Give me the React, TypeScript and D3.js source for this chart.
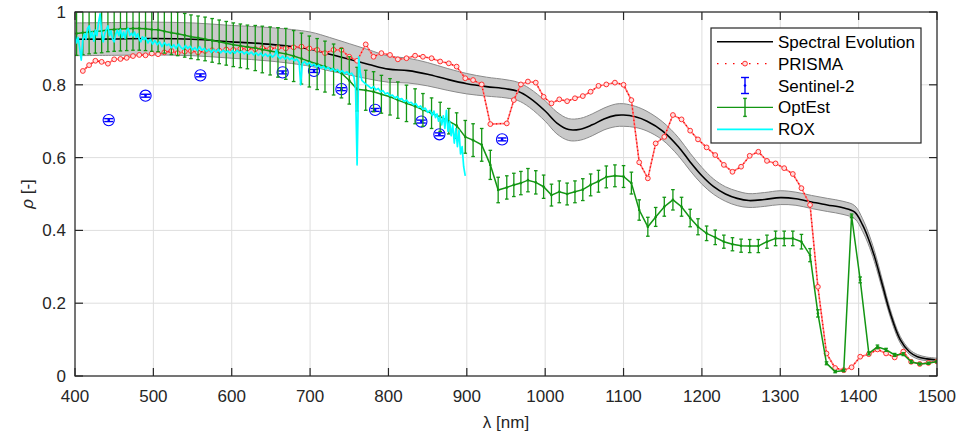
import React from 'react';
import * as d3 from 'd3';

const W = 959;
const H = 438;
const PL = 75, PR = 937, PT = 12, PB = 376;

const xTicks = [400, 500, 600, 700, 800, 900, 1000, 1100, 1200, 1300, 1400, 1500];
const yTicks = [0, 0.2, 0.4, 0.6, 0.8, 1];
const yTickLabels = ['0', '0.2', '0.4', '0.6', '0.8', '1'];
const legendLabels = ['Spectral Evolution', 'PRISMA', 'Sentinel-2', 'OptEst', 'ROX'];

// [wavelength, reflectance, std]
const spectralEvolution: [number, number, number][] = [
  [400, 0.925, 0.045], [450, 0.926, 0.045], [500, 0.927, 0.045], [550, 0.925, 0.045],
  [600, 0.918, 0.045], [650, 0.911, 0.046], [700, 0.898, 0.047], [725, 0.884, 0.046],
  [750, 0.870, 0.043], [775, 0.856, 0.040], [800, 0.843, 0.036], [825, 0.839, 0.034],
  [850, 0.829, 0.032], [875, 0.815, 0.030], [900, 0.803, 0.028], [925, 0.795, 0.026],
  [950, 0.789, 0.025], [965, 0.782, 0.025], [980, 0.764, 0.026], [1000, 0.728, 0.028],
  [1015, 0.695, 0.030], [1030, 0.677, 0.030], [1045, 0.678, 0.030], [1060, 0.690, 0.030],
  [1075, 0.706, 0.030], [1090, 0.716, 0.031], [1100, 0.717, 0.031], [1115, 0.712, 0.029],
  [1130, 0.700, 0.027], [1150, 0.673, 0.025], [1170, 0.630, 0.025], [1185, 0.588, 0.024],
  [1200, 0.550, 0.023], [1215, 0.520, 0.021], [1230, 0.500, 0.020], [1245, 0.488, 0.020],
  [1260, 0.482, 0.019], [1280, 0.485, 0.019], [1300, 0.490, 0.019], [1320, 0.487, 0.018],
  [1340, 0.478, 0.018], [1360, 0.470, 0.018], [1380, 0.462, 0.018], [1395, 0.450, 0.018],
  [1405, 0.415, 0.017], [1412, 0.380, 0.016], [1420, 0.330, 0.015], [1431, 0.245, 0.013],
  [1440, 0.175, 0.011], [1453, 0.100, 0.009], [1465, 0.066, 0.007], [1475, 0.053, 0.006],
  [1487, 0.047, 0.005], [1500, 0.044, 0.005],
];

// [wavelength, reflectance]
const prisma: [number, number][] = [
  [410, 0.838], [418, 0.854], [426, 0.866], [434, 0.863], [442, 0.858], [450, 0.870],
  [458, 0.871], [466, 0.874], [474, 0.879], [482, 0.882], [490, 0.881], [498, 0.886],
  [506, 0.884], [514, 0.889], [523, 0.893], [531, 0.887], [540, 0.891], [548, 0.893],
  [557, 0.889], [566, 0.893], [575, 0.895], [584, 0.894], [593, 0.897], [602, 0.896],
  [611, 0.899], [620, 0.900], [630, 0.898], [639, 0.901], [649, 0.899], [659, 0.902],
  [669, 0.900], [679, 0.903], [689, 0.905], [699, 0.900], [709, 0.896], [719, 0.887],
  [730, 0.896], [740, 0.896], [750, 0.877], [760, 0.866], [771, 0.911], [781, 0.877],
  [791, 0.887], [802, 0.882], [812, 0.870], [823, 0.873], [834, 0.880], [844, 0.877],
  [855, 0.873], [866, 0.864], [877, 0.859], [887, 0.850], [898, 0.818], [908, 0.813],
  [919, 0.801], [930, 0.692], [951, 0.694], [960, 0.758], [969, 0.801], [978, 0.809],
  [988, 0.806], [998, 0.767], [1008, 0.749], [1018, 0.760], [1028, 0.755], [1038, 0.763],
  [1048, 0.769], [1058, 0.781], [1068, 0.797], [1078, 0.801], [1089, 0.806], [1100, 0.800],
  [1110, 0.758], [1120, 0.587], [1131, 0.543], [1141, 0.639], [1152, 0.657], [1163, 0.717],
  [1174, 0.705], [1185, 0.674], [1195, 0.650], [1206, 0.628], [1217, 0.607], [1228, 0.580],
  [1239, 0.561], [1250, 0.575], [1261, 0.605], [1272, 0.616], [1283, 0.591], [1294, 0.584],
  [1305, 0.571], [1316, 0.555], [1327, 0.516], [1338, 0.470], [1348, 0.245], [1359, 0.062],
  [1370, 0.022], [1381, 0.016], [1391, 0.024], [1402, 0.053], [1413, 0.060], [1424, 0.073],
  [1435, 0.062], [1446, 0.051], [1457, 0.067], [1467, 0.039], [1478, 0.033], [1489, 0.036],
  [1500, 0.040],
];

// [wavelength, reflectance, error]
const sentinel2: [number, number, number][] = [
  [443, 0.703, 0.004], [490, 0.770, 0.004], [560, 0.826, 0.004], [665, 0.834, 0.004],
  [705, 0.838, 0.004], [740, 0.788, 0.004], [783, 0.731, 0.004], [842, 0.699, 0.004],
  [865, 0.664, 0.004], [945, 0.650, 0.004],
];

// [wavelength, reflectance, error]
const optEst: [number, number, number][] = [
  [402, 0.941, 0.06], [410, 0.943, 0.06], [418, 0.945, 0.06], [426, 0.947, 0.06],
  [434, 0.948, 0.06], [442, 0.951, 0.06], [450, 0.952, 0.06], [458, 0.953, 0.06],
  [466, 0.954, 0.06], [474, 0.955, 0.06], [482, 0.955, 0.06], [490, 0.954, 0.06],
  [498, 0.952, 0.06], [506, 0.951, 0.06], [514, 0.947, 0.06], [523, 0.943, 0.06],
  [531, 0.940, 0.06], [540, 0.936, 0.06], [548, 0.932, 0.06], [557, 0.929, 0.06],
  [566, 0.926, 0.06], [575, 0.922, 0.06], [584, 0.918, 0.06], [593, 0.914, 0.06],
  [602, 0.910, 0.06], [611, 0.907, 0.06], [620, 0.904, 0.06], [630, 0.901, 0.062],
  [639, 0.897, 0.064], [649, 0.893, 0.066], [659, 0.889, 0.068], [669, 0.885, 0.07],
  [679, 0.879, 0.07], [689, 0.872, 0.07], [699, 0.864, 0.07], [709, 0.857, 0.07],
  [719, 0.850, 0.07], [730, 0.842, 0.07], [740, 0.832, 0.068], [750, 0.812, 0.065],
  [760, 0.788, 0.06], [771, 0.785, 0.055], [781, 0.781, 0.055], [791, 0.774, 0.052],
  [802, 0.767, 0.05], [812, 0.758, 0.05], [823, 0.749, 0.05], [834, 0.741, 0.048],
  [844, 0.731, 0.045], [855, 0.722, 0.042], [866, 0.712, 0.04], [877, 0.700, 0.035],
  [887, 0.688, 0.035], [898, 0.657, 0.045], [908, 0.648, 0.045], [919, 0.635, 0.045],
  [930, 0.580, 0.04], [940, 0.511, 0.035], [951, 0.518, 0.032], [960, 0.525, 0.032],
  [969, 0.530, 0.032], [978, 0.538, 0.032], [988, 0.532, 0.032], [998, 0.520, 0.032],
  [1008, 0.497, 0.03], [1018, 0.506, 0.03], [1028, 0.500, 0.03], [1038, 0.506, 0.03],
  [1048, 0.512, 0.03], [1058, 0.525, 0.03], [1068, 0.535, 0.03], [1078, 0.547, 0.03],
  [1089, 0.550, 0.03], [1100, 0.548, 0.03], [1110, 0.530, 0.03], [1120, 0.456, 0.028],
  [1131, 0.410, 0.026], [1141, 0.437, 0.026], [1152, 0.465, 0.026], [1163, 0.484, 0.028],
  [1174, 0.465, 0.026], [1185, 0.434, 0.024], [1195, 0.410, 0.022], [1206, 0.392, 0.02],
  [1217, 0.381, 0.02], [1228, 0.369, 0.018], [1239, 0.362, 0.018], [1250, 0.358, 0.018],
  [1261, 0.357, 0.018], [1272, 0.357, 0.018], [1283, 0.369, 0.018], [1294, 0.378, 0.02],
  [1305, 0.378, 0.02], [1316, 0.378, 0.02], [1327, 0.369, 0.02], [1338, 0.332, 0.018],
  [1348, 0.172, 0.01], [1359, 0.035, 0.004], [1370, 0.012, 0.003], [1381, 0.015, 0.003],
  [1391, 0.440, 0.005], [1402, 0.264, 0.008], [1413, 0.062, 0.004], [1424, 0.080, 0.005],
  [1435, 0.072, 0.004], [1446, 0.058, 0.004], [1457, 0.060, 0.004], [1467, 0.039, 0.004],
  [1478, 0.033, 0.003], [1489, 0.035, 0.003], [1500, 0.040, 0.003],
];

// [wavelength, reflectance]
const rox: [number, number][] = [
  [400, 0.935], [402, 0.915], [404, 0.93], [406, 0.90], [408, 0.868], [410, 0.925], [412, 0.94],
  [414, 0.925], [416, 0.955], [418, 0.962], [420, 0.93], [422, 0.945], [424, 0.92], [426, 0.95],
  [428, 0.935], [430, 0.97], [432, 0.995], [434, 0.945], [436, 0.918], [438, 0.94], [440, 0.952],
  [442, 0.962], [444, 0.935], [446, 0.948], [448, 0.925], [450, 0.918], [452, 0.94], [454, 0.95],
  [456, 0.935], [458, 0.952], [460, 0.93], [462, 0.945], [464, 0.928], [466, 0.95], [468, 0.955],
  [470, 0.935], [472, 0.942], [474, 0.934], [476, 0.945], [478, 0.93], [480, 0.94], [482, 0.925],
  [484, 0.918], [486, 0.932], [488, 0.924], [490, 0.93], [493, 0.915], [496, 0.925], [499, 0.912],
  [502, 0.922], [505, 0.91], [508, 0.918], [511, 0.905], [514, 0.916], [517, 0.908], [520, 0.912],
  [523, 0.902], [526, 0.91], [529, 0.90], [532, 0.912], [535, 0.903], [538, 0.898], [541, 0.908],
  [544, 0.90], [547, 0.906], [550, 0.896], [553, 0.902], [556, 0.894], [559, 0.905], [562, 0.895],
  [565, 0.90], [568, 0.892], [571, 0.898], [574, 0.889], [577, 0.897], [580, 0.89], [583, 0.898],
  [586, 0.888], [589, 0.895], [592, 0.889], [595, 0.893], [598, 0.886], [601, 0.894], [604, 0.887],
  [607, 0.895], [610, 0.888], [613, 0.892], [616, 0.885], [619, 0.891], [622, 0.884], [625, 0.89],
  [628, 0.882], [631, 0.888], [634, 0.881], [637, 0.887], [640, 0.879], [643, 0.885], [646, 0.878],
  [649, 0.884], [652, 0.876], [655, 0.882], [657, 0.896], [659, 0.878], [662, 0.872], [665, 0.879],
  [668, 0.871], [671, 0.876], [674, 0.869], [677, 0.874], [680, 0.866], [683, 0.871], [686, 0.862],
  [688, 0.80], [690, 0.858], [693, 0.864], [696, 0.855], [699, 0.861], [702, 0.852], [705, 0.857],
  [708, 0.849], [711, 0.854], [714, 0.846], [717, 0.851], [720, 0.843], [723, 0.848], [726, 0.84],
  [729, 0.845], [732, 0.837], [735, 0.842], [738, 0.834], [741, 0.839], [744, 0.831], [747, 0.836],
  [750, 0.828], [753, 0.832], [756, 0.822], [758, 0.79], [760, 0.58], [761, 0.70], [762, 0.877],
  [764, 0.835], [766, 0.812], [769, 0.806], [772, 0.80], [775, 0.796], [778, 0.79], [781, 0.795],
  [784, 0.786], [787, 0.79], [790, 0.781], [793, 0.784], [796, 0.775], [799, 0.778], [802, 0.77],
  [805, 0.772], [808, 0.764], [811, 0.768], [814, 0.76], [817, 0.762], [820, 0.754], [823, 0.758],
  [826, 0.75], [829, 0.752], [832, 0.745], [835, 0.748], [838, 0.738], [841, 0.742], [844, 0.732],
  [847, 0.736], [850, 0.724], [853, 0.73], [856, 0.715], [858, 0.728], [860, 0.71], [862, 0.72],
  [864, 0.70], [866, 0.712], [868, 0.69], [870, 0.715], [872, 0.68], [874, 0.73], [876, 0.672],
  [878, 0.70], [880, 0.66], [882, 0.69], [884, 0.64], [886, 0.68], [888, 0.63], [890, 0.675],
  [892, 0.61], [894, 0.63], [896, 0.575], [898, 0.55],
];

const FONT = '"Liberation Sans", Arial, Helvetica, sans-serif';
const AXIS = '#262626';
const GREEN = '#139613';
const BLUE = '#0000ff';
const RED = '#ff0000';
const CYAN = '#00ffff';

export default function App() {
  const x = d3.scaleLinear().domain([400, 1500]).range([PL, PR]);
  const y = d3.scaleLinear().domain([0, 1]).range([PB, PT]);

  const band = d3
    .area<[number, number, number]>()
    .x((d) => x(d[0]))
    .y0((d) => y(d[1] - d[2]))
    .y1((d) => y(d[1] + d[2]))
    .curve(d3.curveCatmullRom.alpha(0.5));
  const bandUpper = d3
    .line<[number, number, number]>()
    .x((d) => x(d[0]))
    .y((d) => y(d[1] + d[2]))
    .curve(d3.curveCatmullRom.alpha(0.5));
  const bandLower = d3
    .line<[number, number, number]>()
    .x((d) => x(d[0]))
    .y((d) => y(d[1] - d[2]))
    .curve(d3.curveCatmullRom.alpha(0.5));
  const seLine = d3
    .line<[number, number, number]>()
    .x((d) => x(d[0]))
    .y((d) => y(d[1]))
    .curve(d3.curveCatmullRom.alpha(0.5));
  const line2 = d3
    .line<[number, number]>()
    .x((d) => x(d[0]))
    .y((d) => y(d[1]));
  const line3 = d3
    .line<[number, number, number]>()
    .x((d) => x(d[0]))
    .y((d) => y(d[1]));

  const legX = 711, legY = 28, legW = 210, legH = 115;
  const rowY = (i: number) => 41.7 + i * 21.9;
  const sx0 = 717, sx1 = 773, sxm = 745, tx = 778;

  return (
    <div style={{ position: 'absolute', left: 0, top: 0, width: W, height: H, background: '#fff' }}>
      <svg width={W} height={H} style={{ display: 'block', fontFamily: FONT }}>
        <defs>
          <clipPath id="plotClip">
            <rect x={PL} y={PT} width={PR - PL} height={PB - PT} />
          </clipPath>
        </defs>
        <rect x={0} y={0} width={W} height={H} fill="#fff" />
        <rect x={PL} y={PT} width={PR - PL} height={PB - PT} fill="#fff" />

        {/* grid */}
        <g stroke="#dedede" strokeWidth={1}>
          {xTicks.map((t) => (
            <line key={'gx' + t} x1={x(t)} x2={x(t)} y1={PT} y2={PB} />
          ))}
          {yTicks.map((t) => (
            <line key={'gy' + t} x1={PL} x2={PR} y1={y(t)} y2={y(t)} />
          ))}
        </g>

        <g clipPath="url(#plotClip)">
          {/* Spectral Evolution band */}
          <path d={band(spectralEvolution) || ''} fill="#c9c9c9" />
          <path d={bandUpper(spectralEvolution) || ''} fill="none" stroke="#8a8a8a" strokeWidth={1} />
          <path d={bandLower(spectralEvolution) || ''} fill="none" stroke="#8a8a8a" strokeWidth={1} />
          <path d={seLine(spectralEvolution) || ''} fill="none" stroke="#000" strokeWidth={1.6} />

          {/* PRISMA */}
          <path d={line2(prisma) || ''} fill="none" stroke="#ff7a7a" strokeWidth={1.6} />
          <path d={line2(prisma) || ''} fill="none" stroke={RED} strokeWidth={1.3} strokeDasharray="1.2 2.6" />
          {prisma.map((d, i) => (
            <circle key={'p' + i} cx={x(d[0])} cy={y(d[1])} r={2.4} fill="#ffe0e0" stroke="#ff3030" strokeWidth={1} />
          ))}

          {/* Sentinel-2 */}
          {sentinel2.map((d, i) => {
            const cx = x(d[0]);
            const cy = y(d[1]);
            const y0 = y(d[1] - d[2]);
            const y1 = y(d[1] + d[2]);
            return (
              <g key={'s' + i} stroke={BLUE}>
                <circle cx={cx} cy={cy} r={5.6} fill="none" strokeWidth={1.1} />
                <line x1={cx} x2={cx} y1={y0} y2={y1} strokeWidth={1.4} />
                <line x1={cx - 4.5} x2={cx + 4.5} y1={y0} y2={y0} strokeWidth={1.4} />
                <line x1={cx - 4.5} x2={cx + 4.5} y1={y1} y2={y1} strokeWidth={1.4} />
                <circle cx={cx} cy={cy} r={1.3} fill={BLUE} stroke="none" />
              </g>
            );
          })}

          {/* OptEst */}
          <path d={line3(optEst) || ''} fill="none" stroke={GREEN} strokeWidth={1.5} />
          {optEst.map((d, i) => {
            const cx = x(d[0]);
            const y0 = y(d[1] - d[2]);
            const y1 = y(d[1] + d[2]);
            return (
              <g key={'o' + i} stroke={GREEN} strokeWidth={1.3}>
                <line x1={cx} x2={cx} y1={y0} y2={y1} />
                <line x1={cx - 1.8} x2={cx + 1.8} y1={y0} y2={y0} />
                <line x1={cx - 1.8} x2={cx + 1.8} y1={y1} y2={y1} />
                <circle cx={cx} cy={y(d[1])} r={1.3} fill={GREEN} stroke="none" />
              </g>
            );
          })}

          {/* ROX */}
          <path d={line2(rox) || ''} fill="none" stroke={CYAN} strokeWidth={1.7} strokeLinejoin="round" />
        </g>

        {/* axes box */}
        <rect x={PL} y={PT} width={PR - PL} height={PB - PT} fill="none" stroke={AXIS} strokeWidth={1.2} />
        <g stroke={AXIS} strokeWidth={1.2}>
          {xTicks.map((t) => (
            <g key={'tx' + t}>
              <line x1={x(t)} x2={x(t)} y1={PB} y2={PB - 8} />
              <line x1={x(t)} x2={x(t)} y1={PT} y2={PT + 8} />
            </g>
          ))}
          {yTicks.map((t) => (
            <g key={'ty' + t}>
              <line x1={PL} x2={PL + 8} y1={y(t)} y2={y(t)} />
              <line x1={PR} x2={PR - 8} y1={y(t)} y2={y(t)} />
            </g>
          ))}
        </g>

        {/* tick labels */}
        <g fill={AXIS} fontSize={17}>
          {xTicks.map((t) => (
            <text key={'lx' + t} x={x(t)} y={402} textAnchor="middle">
              {String(t)}
            </text>
          ))}
          {yTicks.map((t, i) => (
            <text key={'ly' + t} x={66} y={y(t) + 6} textAnchor="end">
              {yTickLabels[i]}
            </text>
          ))}
        </g>

        {/* axis labels */}
        <text x={(PL + PR) / 2} y={428} textAnchor="middle" fontSize={17} fill={AXIS}>
          λ [nm]
        </text>
        <text
          transform={`translate(33, ${(PT + PB) / 2}) rotate(-90)`}
          textAnchor="middle"
          fontSize={17}
          fill={AXIS}
        >
          <tspan fontStyle="italic">ρ</tspan> [-]
        </text>

        {/* legend */}
        <rect x={legX} y={legY} width={legW} height={legH} fill="#fff" stroke={AXIS} strokeWidth={1.2} />
        <g fontSize={17} fill="#000">
          {legendLabels.map((l, i) => (
            <text key={'lg' + i} x={tx} y={rowY(i) + 6}>
              {l}
            </text>
          ))}
        </g>
        <line x1={sx0} x2={sx1} y1={rowY(0)} y2={rowY(0)} stroke="#000" strokeWidth={1.6} />
        <line x1={sx0} x2={sx1} y1={rowY(1)} y2={rowY(1)} stroke={RED} strokeWidth={1.3} strokeDasharray="1.5 6.5" />
        <circle cx={sxm} cy={rowY(1)} r={2.4} fill="#ffe0e0" stroke="#ff3030" strokeWidth={1} />
        <g stroke={BLUE} strokeWidth={1.4}>
          <line x1={sxm} x2={sxm} y1={rowY(2) - 8} y2={rowY(2) + 8} />
          <line x1={sxm - 4} x2={sxm + 4} y1={rowY(2) - 8} y2={rowY(2) - 8} />
          <line x1={sxm - 4} x2={sxm + 4} y1={rowY(2) + 8} y2={rowY(2) + 8} />
          <circle cx={sxm} cy={rowY(2)} r={1.3} fill={BLUE} stroke="none" />
        </g>
        <g stroke={GREEN} strokeWidth={1.4}>
          <line x1={sx0} x2={sx1} y1={rowY(3)} y2={rowY(3)} />
          <line x1={sxm} x2={sxm} y1={rowY(3) - 9} y2={rowY(3) + 9} />
          <line x1={sxm - 1.8} x2={sxm + 1.8} y1={rowY(3) - 9} y2={rowY(3) - 9} />
          <line x1={sxm - 1.8} x2={sxm + 1.8} y1={rowY(3) + 9} y2={rowY(3) + 9} />
        </g>
        <line x1={sx0} x2={sx1} y1={rowY(4)} y2={rowY(4)} stroke={CYAN} strokeWidth={1.7} />
      </svg>
    </div>
  );
}
